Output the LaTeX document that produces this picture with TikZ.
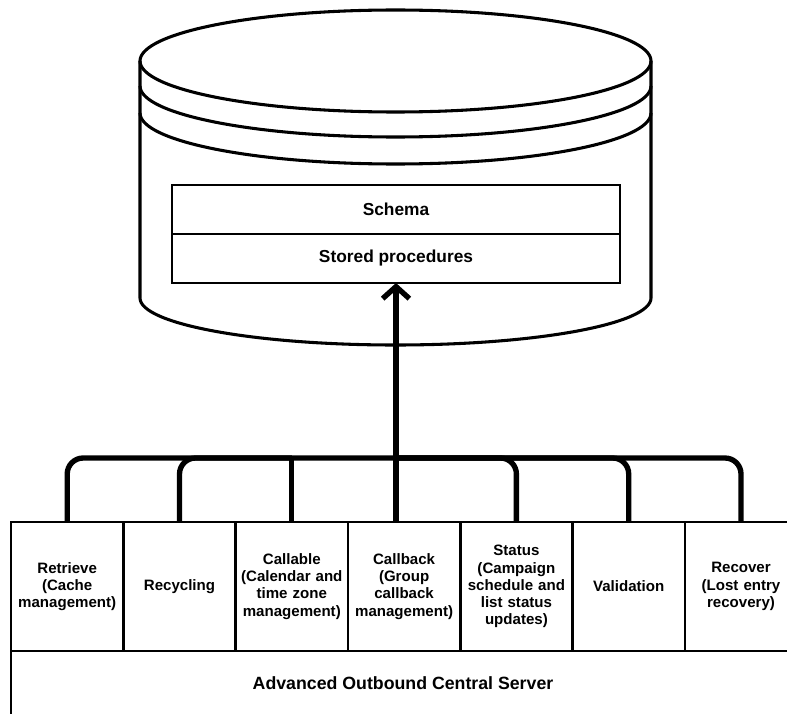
\documentclass[tikz,border=0pt]{standalone}
\usepackage{fontspec}
\setmainfont{Liberation Sans}
\usetikzlibrary{positioning,arrows.meta}
\begin{document}
\begin{tikzpicture}[x=0.75pt,y=0.75pt,
	cyl/.style={line width=2.3pt},
	cell/.style={draw,line width=2pt,outer sep=0pt,inner sep=0pt,align=center},
	dbrow/.style={cell,minimum width=448*0.75pt,minimum height=49*0.75pt,font=\bfseries\fontsize{13}{15}\selectfont},
	module/.style={cell,minimum width=112.3*0.75pt,minimum height=129*0.75pt,text width=82pt,font=\bfseries\fontsize{11.3}{12.9}\selectfont},
	bus/.style={line width=4pt,rounded corners=12pt}]
	\useasboundingbox (0,0) rectangle (787,-713);
	\draw[cyl] (395.5,-61) ellipse [x radius=255.5,y radius=51];
	\draw[cyl] (140,-61)--(140,-298) arc[start angle=180,end angle=360,x radius=255.5,y radius=47]--(651,-61);
	\draw[cyl] (140,-86) arc[start angle=180,end angle=360,x radius=255.5,y radius=51];
	\draw[cyl] (140,-113) arc[start angle=180,end angle=360,x radius=255.5,y radius=51];
	\node[dbrow] (schema) at (396,-209.5){Schema};
	\node[dbrow,below=0pt of schema] (proc){Stored procedures};
	\node[module] (ret) at (67.2,-586.5){Retrieve\\(Cache\\management)};
	\node[module,right=0pt of ret] (rec){Recycling};
	\node[module,right=0pt of rec] (cal){Callable\\(Calendar and\\time zone\\management)};
	\node[module,right=0pt of cal] (cbk){Callback\\(Group\\callback\\management)};
	\node[module,right=0pt of cbk] (sta){Status\\(Campaign\\schedule and\\list status\\updates)};
	\node[module,right=0pt of sta] (val){Validation};
	\node[module,right=0pt of val] (rcv){Recover\\(Lost entry\\recovery)};
	\node[cell,minimum width=784*0.75pt,minimum height=64*0.75pt,font=\bfseries\fontsize{13.3}{15}\selectfont] (aocs) at (403,-683){Advanced Outbound Central Server};
	\coordinate (hub) at (396,-458);
	\draw[bus] (ret.north) |- (hub) -| (rcv.north);
	\draw[bus] (rec.north) |- (cal.north |- hub);
	\draw[bus] (cal.north)--(cal.north |- hub);
	\draw[bus] (sta.north) |- (hub);
	\draw[bus] (val.north) |- (hub);
	\draw[bus,-{Straight Barb[length=9pt,width=20pt]}] (hub |- cbk.north)--(hub |- proc.south);
\end{tikzpicture}
\end{document}
